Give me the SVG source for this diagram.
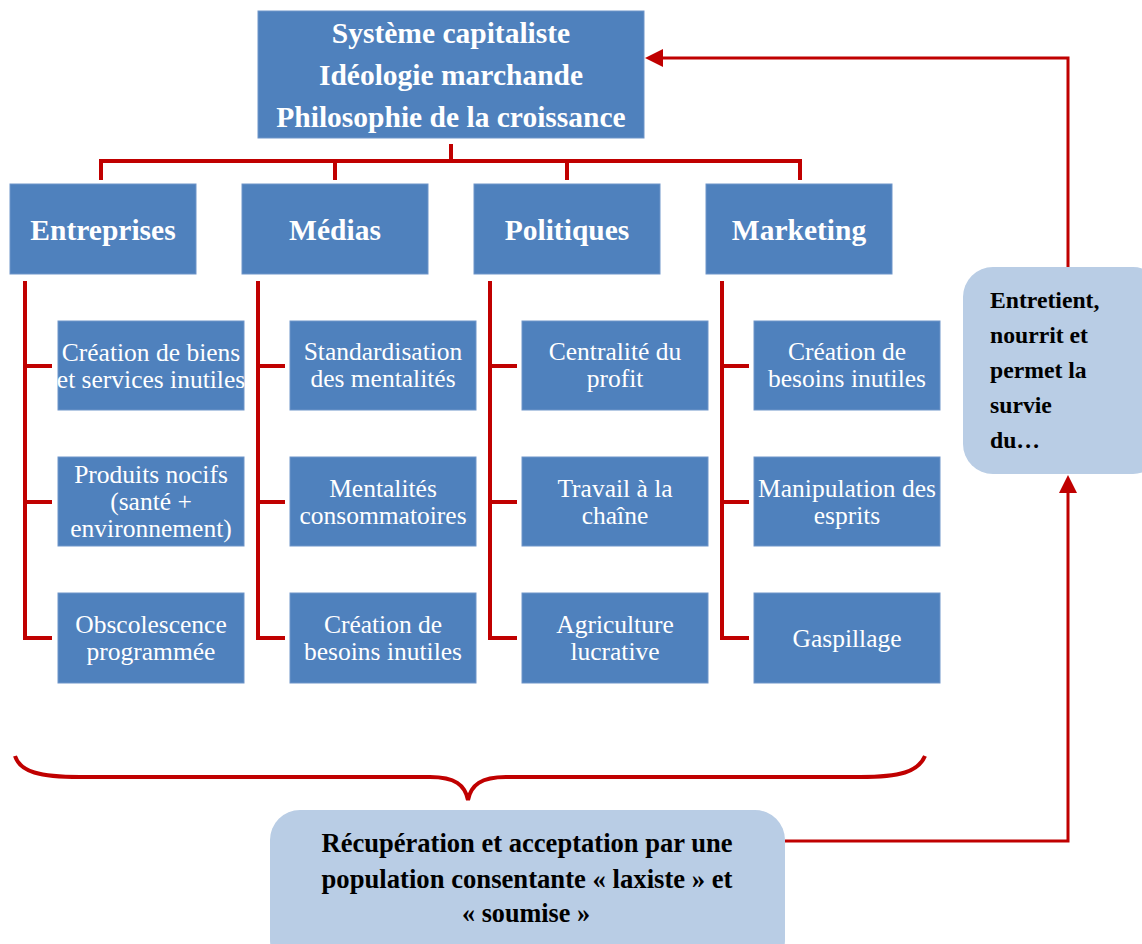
<svg xmlns="http://www.w3.org/2000/svg" width="1142" height="944" viewBox="0 0 1142 944">
<defs>
<style>
.box{fill:#4F81BD;stroke:#6F95C9;stroke-width:1}
.lbox{fill:#B9CDE5}
.t{font-family:"Liberation Serif","Times New Roman",serif;fill:#fff;text-anchor:middle}
.tb{font-weight:bold;font-size:29.5px}
.tc{font-weight:bold;font-size:29.5px}
.ts{font-size:25.5px}
.tk{font-family:"Liberation Serif","Times New Roman",serif;font-weight:bold;fill:#000;font-size:23.7px}
.tw{font-family:"Liberation Serif","Times New Roman",serif;font-weight:bold;fill:#000;font-size:28px;text-anchor:middle}
.c{fill:none;stroke:#C00000;stroke-width:4}
.a{fill:none;stroke:#C00000;stroke-width:3}
</style>
<marker id="ah" markerWidth="6" markerHeight="6" refX="4" refY="3" orient="auto" markerUnits="strokeWidth">
<path d="M0,0 L6,3 L0,6 z" fill="#C00000"/>
</marker>
</defs>
<rect width="1142" height="944" fill="#fff"/>

<g id="connectors">
<path class="c" d="M451,144 V161 M101,180 V161 H800 V180 M335,161 V180 M567,161 V180"/>
<path class="c" d="M25,281 V638 H52 M25,366 H52 M25,502 H52"/>
<path class="c" d="M258,281 V638 H285 M258,366 H285 M258,502 H285"/>
<path class="c" d="M490,281 V638 H517 M490,366 H517 M490,502 H517"/>
<path class="c" d="M722,281 V638 H749 M722,366 H749 M722,502 H749"/>
<path class="c" d="M15,756 C20,772 40,777 80,777 L430,777 C455,777 465,785 468,800 C471,785 481,777 506,777 L860,777 C900,777 918,772 925,756"/>
<path class="a" d="M1068,267 V58 H651" marker-end="url(#ah)"/>
<path class="a" d="M785,841 H1068 V481" marker-end="url(#ah)"/>
</g>

<g id="top">
<rect class="box" x="258" y="11" width="386" height="127"/>
<text class="t tb" x="451" y="43">Système capitaliste</text>
<text class="t tb" x="451" y="85">Idéologie marchande</text>
<text class="t tb" x="451" y="127">Philosophie de la croissance</text>
</g>

<g id="entreprises">
<rect class="box" x="10" y="184" width="186" height="90"/>
<text class="t tc" x="103" y="240">Entreprises</text>
</g>
<g id="medias">
<rect class="box" x="242" y="184" width="186" height="90"/>
<text class="t tc" x="335" y="240">Médias</text>
</g>
<g id="politiques">
<rect class="box" x="474" y="184" width="186" height="90"/>
<text class="t tc" x="567" y="240">Politiques</text>
</g>
<g id="marketing">
<rect class="box" x="706" y="184" width="186" height="90"/>
<text class="t tc" x="799" y="240">Marketing</text>
</g>

<g id="e1"><rect class="box" x="58" y="321" width="186" height="89"/>
<text class="t ts" x="151" y="361">Création de biens</text><text class="t ts" x="151" y="388">et services inutiles</text></g>
<g id="e2"><rect class="box" x="58" y="457" width="186" height="89"/>
<text class="t ts" x="151" y="483">Produits nocifs</text><text class="t ts" x="151" y="510">(santé +</text><text class="t ts" x="151" y="537">environnement)</text></g>
<g id="e3"><rect class="box" x="58" y="593" width="186" height="90"/>
<text class="t ts" x="151" y="633">Obscolescence</text><text class="t ts" x="151" y="660">programmée</text></g>

<g id="m1"><rect class="box" x="290" y="321" width="186" height="89"/>
<text class="t ts" x="383" y="360">Standardisation</text><text class="t ts" x="383" y="387">des mentalités</text></g>
<g id="m2"><rect class="box" x="290" y="457" width="186" height="89"/>
<text class="t ts" x="383" y="497">Mentalités</text><text class="t ts" x="383" y="524">consommatoires</text></g>
<g id="m3"><rect class="box" x="290" y="593" width="186" height="90"/>
<text class="t ts" x="383" y="633">Création de</text><text class="t ts" x="383" y="660">besoins inutiles</text></g>

<g id="p1"><rect class="box" x="522" y="321" width="186" height="89"/>
<text class="t ts" x="615" y="360">Centralité du</text><text class="t ts" x="615" y="387">profit</text></g>
<g id="p2"><rect class="box" x="522" y="457" width="186" height="89"/>
<text class="t ts" x="615" y="497">Travail à la</text><text class="t ts" x="615" y="524">chaîne</text></g>
<g id="p3"><rect class="box" x="522" y="593" width="186" height="90"/>
<text class="t ts" x="615" y="633">Agriculture</text><text class="t ts" x="615" y="660">lucrative</text></g>

<g id="k1"><rect class="box" x="754" y="321" width="186" height="89"/>
<text class="t ts" x="847" y="360">Création de</text><text class="t ts" x="847" y="387">besoins inutiles</text></g>
<g id="k2"><rect class="box" x="754" y="457" width="186" height="89"/>
<text class="t ts" x="847" y="497">Manipulation des</text><text class="t ts" x="847" y="524">esprits</text></g>
<g id="k3"><rect class="box" x="754" y="593" width="186" height="90"/>
<text class="t ts" x="847" y="647">Gaspillage</text></g>

<g id="right">
<rect class="lbox" x="963" y="267" width="200" height="207" rx="30"/>
<text class="tk" x="990" y="308">Entretient,</text>
<text class="tk" x="990" y="343">nourrit et</text>
<text class="tk" x="990" y="378">permet la</text>
<text class="tk" x="990" y="413">survie</text>
<text class="tk" x="990" y="448">du…</text>
</g>

<g id="bottom">
<rect class="lbox" x="270" y="810" width="515" height="160" rx="30"/>
<text class="tw" x="527" y="852" textLength="411" lengthAdjust="spacingAndGlyphs">Récupération et acceptation par une</text>
<text class="tw" x="527" y="888" textLength="411" lengthAdjust="spacingAndGlyphs">population consentante « laxiste » et</text>
<text class="tw" x="526" y="922" textLength="128" lengthAdjust="spacingAndGlyphs">« soumise »</text>
</g>
</svg>
